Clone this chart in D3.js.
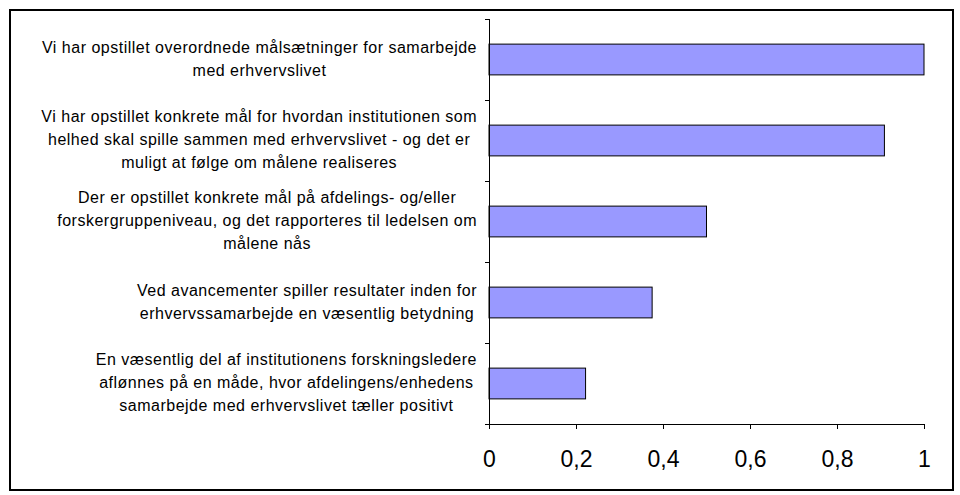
<html>
<head>
	<meta charset="utf-8">
	<title>D3</title>
	<style>
body {
	margin: 0;
	background: #fff;
}

.frame {
	fill: none;
	stroke: #000;
	stroke-width: 2;
}

.bar {
	fill: #9999ff;
	stroke: #000;
	stroke-width: 1;
}

.axis path,
.axis line {
	stroke: #000;
	shape-rendering: crispEdges;
}

.cat {
	font-family: "Liberation Sans", Arial, sans-serif;
	font-size: 16px;
	letter-spacing: 0.5px;
	fill: #000;
}

.xaxis text {
	font-family: "Liberation Sans", Arial, sans-serif;
	font-size: 23px;
	fill: #000;
}
</style>
</head>

<body>
	<div id="div"></div>

	<script src="https://cdn.jsdelivr.net/npm/d3@7"></script>

	<script>

// categories, each label split into the lines shown in the chart
const categories = [
	['Vi har opstillet overordnede målsætninger for samarbejde', 'med erhvervslivet'],
	['Vi har opstillet konkrete mål for hvordan institutionen som', 'helhed skal spille sammen med erhvervslivet - og det er', 'muligt at følge om målene realiseres'],
	['Der er opstillet konkrete mål på afdelings- og/eller', 'forskergruppeniveau, og det rapporteres til ledelsen om', 'målene nås'],
	['Ved avancementer spiller resultater inden for', 'erhvervssamarbejde en væsentlig betydning'],
	['En væsentlig del af institutionens forskningsledere', 'aflønnes på en måde, hvor afdelingens/enhedens', 'samarbejde med erhvervslivet tæller positivt']
];
const values = [1.0, 0.909, 0.5, 0.375, 0.222];
const xTicks = [0, 0.2, 0.4, 0.6, 0.8, 1];

const width = 960;
const height = 495;

const svg = d3.select('#div').append('svg')
	.attr('width', width)
	.attr('height', height);

// outer chart border
svg.append('rect')
	.attr('class', 'frame')
	.attr('x', 10)
	.attr('y', 10)
	.attr('width', 943)
	.attr('height', 480);

// plot area
const x = d3.scaleLinear()
	.domain([0, 1])
	.range([489, 924]);

const y = d3.scaleBand()
	.domain(d3.range(categories.length))
	.range([19, 424])
	.paddingInner(0.62)
	.paddingOuter(0.31);

// bars
svg.selectAll('rect.bar')
	.data(values)
	.enter()
	.append('rect')
	.attr('class', 'bar')
	.attr('x', x(0))
	.attr('y', (d, i) => y(i))
	.attr('width', d => x(d) - x(0))
	.attr('height', y.bandwidth());

// y axis: line plus ticks at category boundaries
const bounds = d3.range(categories.length + 1).map(i => 19 + i * (424 - 19) / categories.length);
const ya = svg.append('g').attr('class', 'axis');
ya.append('line')
	.attr('x1', x(0) + 0.5).attr('x2', x(0) + 0.5)
	.attr('y1', 19).attr('y2', 424);
ya.selectAll('line.tk')
	.data(bounds)
	.enter()
	.append('line')
	.attr('class', 'tk')
	.attr('x1', x(0) - 4).attr('x2', x(0))
	.attr('y1', d => Math.round(d) + 0.5).attr('y2', d => Math.round(d) + 0.5);

// x axis
const xa = svg.append('g')
	.attr('class', 'axis xaxis')
	.attr('transform', 'translate(0,424)')
	.call(d3.axisBottom(x)
		.tickValues(xTicks)
		.tickSize(5)
		.tickPadding(22)
		.tickFormat(d => String(d).replace('.', ',')));
xa.select('.domain').attr('d', 'M' + x(0) + ',0.5H' + x(1));

// category labels: block right-aligned, each line centred in the block
const labelRight = 477;
const lineH = 23;
categories.forEach((lines, i) => {
	const g = svg.append('g');
	const cy = y(i) + y.bandwidth() / 2;
	const top = cy - (lines.length - 1) * lineH / 2;
	const texts = g.selectAll('text')
		.data(lines)
		.enter()
		.append('text')
		.attr('class', 'cat')
		.attr('y', (d, j) => top + j * lineH)
		.attr('dy', '0.3em')
		.attr('text-anchor', 'middle')
		.text(d => d);
	const w = d3.max(texts.nodes(), n => n.getComputedTextLength());
	texts.attr('x', labelRight - w / 2);
});

</script>
</body>
</html>
